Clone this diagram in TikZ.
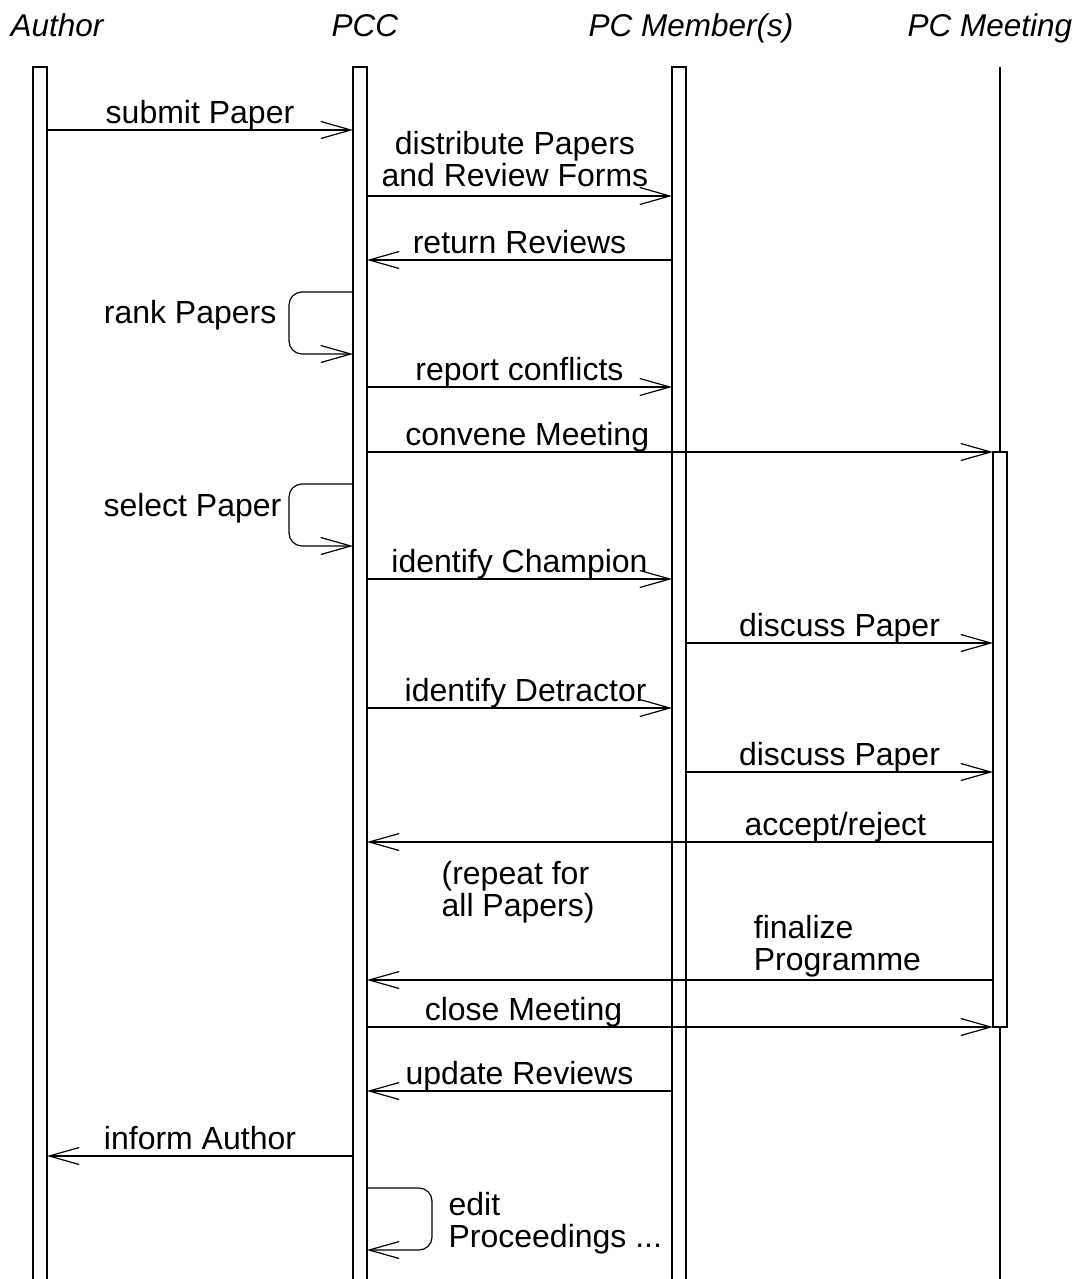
\documentclass[tikz,border=0pt]{standalone}
\usepackage{fontspec}
\setmainfont{Liberation Sans}
\usetikzlibrary{arrows.meta,positioning,calc}

\begin{document}
\begin{tikzpicture}[x=1pt,y=-1pt,line width=1.2pt,
every node/.style={font=\fontsize{32}{32}\selectfont, inner sep=0pt},
msg/.style={-{Straight Barb[length=30pt,width=17pt]}, line join=miter},
lbl/.style={anchor=south, text depth=0pt, yshift=6pt, align=center},
head/.style={anchor=base west, font=\fontsize{31.5}{32}\selectfont\itshape},
life/.style={fill=white}]
\useasboundingbox (0,0) rectangle (1079,1279);
% heads
\node[head] (author) at (10,37) {Author};
\node[head] (pcc) at (331,37) {PCC};
\node[head] (member) at (588,37) {PC Member(s)};
\node[head] (meeting) at (907,37) {PC Meeting};
% lifelines
\draw[life] (33,67) rectangle (47,1282);
\draw[life] (353,67) rectangle (367,1282);
\draw[life] (672,67) rectangle (686,1282);
\draw (1000,67) -- (1000,1282);
\draw[life] (993,452) rectangle (1007,1027);
% end points
\coordinate (A1) at (47,130);   \coordinate (P1) at (353,130);
\coordinate (P2) at (367,196);  \coordinate (M2) at (672,196);
\coordinate (M3) at (672,260);  \coordinate (P3) at (367,260);
\coordinate (P4) at (353,292);  \coordinate (P41) at (353,354);
\coordinate (P5) at (367,387);  \coordinate (M5) at (672,387);
\coordinate (P6) at (367,452);  \coordinate (E6) at (993,452);
\coordinate (P7) at (353,484);  \coordinate (P71) at (353,546);
\coordinate (P8) at (367,579);  \coordinate (M8) at (672,579);
\coordinate (M9) at (686,643);  \coordinate (E9) at (993,643);
\coordinate (P10) at (367,708); \coordinate (M10) at (672,708);
\coordinate (M11) at (686,772); \coordinate (E11) at (993,772);
\coordinate (E12) at (993,842); \coordinate (P12) at (367,842);
\coordinate (E14) at (993,980); \coordinate (P14) at (367,980);
\coordinate (P15) at (367,1027);\coordinate (E15) at (993,1027);
\coordinate (M16) at (672,1091);\coordinate (P16) at (367,1091);
\coordinate (P17) at (353,1156);\coordinate (A17) at (47,1156);
\coordinate (P18) at (367,1188);\coordinate (P181) at (367,1250);
% messages
\draw[msg] (A1) -- node[lbl]{submit Paper} (P1);
\draw[msg] (P2) -- node[lbl, pos=.485, yshift=3pt]{distribute Papers\\and Review Forms} (M2);
\draw[msg] (M3) -- node[lbl]{return Reviews} (P3);
\draw[msg, rounded corners=13pt] (P4) -- ++(-64,0) |- (P41);
\node[anchor=base east] (rank) at (277,323) {rank Papers};
\draw[msg] (P5) -- node[lbl]{report conflicts} (M5);
\draw[msg] (P6) -- node[lbl, pos=.256]{convene Meeting} (E6);
\draw[msg, rounded corners=13pt] (P7) -- ++(-64,0) |- (P71);
\node[anchor=base east] (select) at (282,516) {select Paper};
\draw[msg] (P8) -- node[lbl]{identify Champion} (M8);
\draw[msg] (M9) -- node[lbl]{discuss Paper} (E9);
\draw[msg] (P10) -- node[lbl, pos=.52]{identify Detractor} (M10);
\draw[msg] (M11) -- node[lbl]{discuss Paper} (E11);
\draw[msg] (E12) -- node[lbl, pos=.252]{accept/reject} (P12);
\node[anchor=south west, text depth=0pt, align=left] (repeat) at (441,917) {(repeat for\\all Papers)};
\draw[msg] (E14) -- node[pos=.383, anchor=south west, text depth=0pt, align=left, yshift=9pt]{finalize\\Programme} (P14);
\draw[msg] (P15) -- node[lbl, pos=.25]{close Meeting} (E15);
\draw[msg] (M16) -- node[lbl]{update Reviews} (P16);
\draw[msg] (P17) -- node[lbl]{inform Author} (A17);
\draw[msg, rounded corners=13pt] (P18) -- ++(65,0) |- (P181);
\node[anchor=south west, text depth=0pt, align=left] (edit) at (448,1248) {edit\\Proceedings ...};
\end{tikzpicture}
\end{document}
